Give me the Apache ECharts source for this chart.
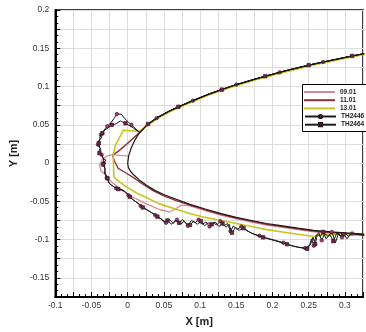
<!DOCTYPE html>
<html>
<head>
<meta charset="utf-8">
<script src="https://cdn.jsdelivr.net/npm/echarts@6/dist/echarts.min.js"></script>
<style>
  html, body { margin: 0; padding: 0; background: #fff; }
  #chart { width: 366px; height: 332px; }
</style>
</head>
<body>
<div id="chart"></div>
<script>
// Shock contours at three times and two probe traces, coordinates in metres [x, y]

// smooth reference contour around the nose (no legend entry)
const bodyContour = [
  [0.33, 0.1435], [0.311, 0.14], [0.26, 0.13], [0.216, 0.12], [0.177, 0.11], [0.142, 0.10],
  [0.112, 0.09], [0.086, 0.08], [0.062, 0.07], [0.042, 0.06], [0.027, 0.05], [0.0165, 0.04],
  [0.010, 0.03], [0.005, 0.02], [0.0015, 0.01], [0.0, 0.0], [0.001, -0.006], [0.004, -0.011],
  [0.009, -0.016], [0.016, -0.022], [0.026, -0.029], [0.038, -0.036], [0.052, -0.042],
  [0.069, -0.048], [0.086, -0.054], [0.107, -0.06], [0.129, -0.066], [0.15, -0.071],
  [0.171, -0.075], [0.192, -0.079], [0.214, -0.082], [0.235, -0.085], [0.257, -0.088],
  [0.28, -0.09], [0.33, -0.093]
];

const c0901 = [
  [0.33, 0.1435], [0.311, 0.14], [0.26, 0.13], [0.216, 0.12], [0.177, 0.11], [0.142, 0.10],
  [0.112, 0.09], [0.086, 0.08], [0.062, 0.07], [0.042, 0.06], [0.027, 0.05], [0.0165, 0.04],
  [0.0, 0.026], [-0.012, 0.016], [-0.021, 0.011], [-0.029, 0.009], [-0.035, 0.005],
  [-0.039, -0.003], [-0.037, -0.010], [-0.031, -0.015], [-0.022, -0.025], [-0.010, -0.034],
  [0.006, -0.044], [0.025, -0.053], [0.045, -0.061], [0.058, -0.064], [0.066, -0.060],
  [0.074, -0.055], [0.086, -0.056], [0.107, -0.062], [0.129, -0.068], [0.15, -0.073],
  [0.171, -0.077], [0.192, -0.081], [0.214, -0.084], [0.235, -0.087], [0.257, -0.090],
  [0.28, -0.092], [0.33, -0.095]
];
const c0901Spur = [[-0.021, 0.011], [-0.010, 0.010], [0.0015, 0.009]];

const c1101 = [
  [0.33, 0.1435], [0.311, 0.14], [0.26, 0.13], [0.216, 0.12], [0.177, 0.11], [0.142, 0.10],
  [0.112, 0.09], [0.086, 0.08], [0.062, 0.07], [0.042, 0.06], [0.027, 0.05], [0.0165, 0.04],
  [0.0, 0.026], [-0.012, 0.016], [-0.021, 0.010], [-0.018, 0.002], [-0.013, -0.007],
  [-0.004, -0.012], [0.008, -0.019], [0.020, -0.027], [0.035, -0.036], [0.05, -0.043],
  [0.067, -0.049], [0.086, -0.055], [0.107, -0.061], [0.129, -0.067], [0.15, -0.072],
  [0.171, -0.076], [0.192, -0.080], [0.214, -0.083], [0.235, -0.086], [0.257, -0.089],
  [0.28, -0.091], [0.33, -0.094]
];

const c1301 = [
  [0.33, 0.1425], [0.311, 0.1388], [0.26, 0.1288], [0.216, 0.1188], [0.177, 0.1088],
  [0.142, 0.0988], [0.112, 0.0888], [0.086, 0.0788], [0.062, 0.0688], [0.042, 0.0588],
  [0.027, 0.0488], [0.016, 0.0415], [0.006, 0.042], [-0.006, 0.043], [-0.017, 0.023],
  [-0.020, 0.010], [-0.019, -0.018], [-0.016, -0.021], [-0.002, -0.031], [0.012, -0.039],
  [0.030, -0.047], [0.043, -0.053], [0.066, -0.060], [0.086, -0.066], [0.107, -0.071],
  [0.129, -0.075], [0.15, -0.079], [0.171, -0.083], [0.192, -0.087], [0.214, -0.090],
  [0.235, -0.093], [0.257, -0.096], [0.265, -0.094], [0.28, -0.093], [0.33, -0.094]
];

const th2446 = [
  [0.33, 0.1435], [0.31, 0.14], [0.29, 0.136], [0.27, 0.132], [0.25, 0.128], [0.23, 0.1235],
  [0.21, 0.1185], [0.19, 0.1135], [0.17, 0.108], [0.15, 0.1025], [0.13, 0.096], [0.11, 0.0893],
  [0.09, 0.0815], [0.07, 0.0735], [0.055, 0.0667], [0.04, 0.0587], [0.028, 0.051], [0.0165, 0.04],
  [0.005, 0.05], [-0.004, 0.058], [-0.009, 0.064], [-0.015, 0.064], [-0.019, 0.058],
  [-0.023, 0.053], [-0.028, 0.048], [-0.031, 0.045], [-0.034, 0.041], [-0.037, 0.037],
  [-0.036, 0.033], [-0.040, 0.029], [-0.041, 0.024], [-0.038, 0.019], [-0.040, 0.015],
  [-0.036, 0.011], [-0.034, 0.006], [-0.030, 0.004], [-0.033, 0.000], [-0.032, -0.005],
  [-0.031, -0.012], [-0.029, -0.019], [-0.026, -0.026], [-0.021, -0.030], [-0.016, -0.033],
  [-0.010, -0.035], [-0.004, -0.037], [0.001, -0.042], [0.006, -0.047], [0.012, -0.051],
  [0.018, -0.056], [0.025, -0.060], [0.032, -0.064], [0.038, -0.068], [0.043, -0.071],
  [0.048, -0.074], [0.053, -0.078], [0.058, -0.074], [0.063, -0.079], [0.068, -0.074],
  [0.073, -0.080], [0.078, -0.076], [0.083, -0.082], [0.088, -0.075], [0.093, -0.078],
  [0.098, -0.074], [0.103, -0.080], [0.108, -0.077], [0.113, -0.083], [0.118, -0.078],
  [0.123, -0.081], [0.128, -0.076], [0.133, -0.082], [0.138, -0.079], [0.142, -0.089],
  [0.146, -0.082], [0.151, -0.087], [0.157, -0.083], [0.164, -0.088], [0.172, -0.092],
  [0.182, -0.095], [0.192, -0.098], [0.204, -0.101], [0.215, -0.104], [0.226, -0.108],
  [0.236, -0.110], [0.245, -0.111], [0.251, -0.108], [0.254, -0.099], [0.257, -0.108],
  [0.260, -0.095], [0.264, -0.091], [0.268, -0.101], [0.272, -0.092], [0.277, -0.096],
  [0.282, -0.090], [0.287, -0.104], [0.291, -0.092], [0.296, -0.097], [0.300, -0.091],
  [0.305, -0.096], [0.31, -0.092], [0.33, -0.094]
];

const th2464 = [
  [0.33, 0.1435], [0.31, 0.14], [0.29, 0.136], [0.27, 0.132], [0.25, 0.128], [0.23, 0.1235],
  [0.21, 0.1185], [0.19, 0.1135], [0.17, 0.108], [0.15, 0.1025], [0.13, 0.096], [0.11, 0.0893],
  [0.09, 0.0815], [0.07, 0.0735], [0.055, 0.0667], [0.04, 0.0587], [0.028, 0.051], [0.0165, 0.04],
  [0.006, 0.047], [-0.003, 0.052], [-0.010, 0.055], [-0.017, 0.051], [-0.022, 0.050],
  [-0.027, 0.046], [-0.032, 0.043], [-0.035, 0.039], [-0.038, 0.035], [-0.039, 0.030],
  [-0.040, 0.026], [-0.039, 0.021], [-0.037, 0.017], [-0.039, 0.013], [-0.035, 0.009],
  [-0.033, 0.004], [-0.034, -0.002], [-0.031, -0.007], [-0.032, -0.013], [-0.028, -0.020],
  [-0.025, -0.027], [-0.019, -0.031], [-0.013, -0.034], [-0.007, -0.035], [-0.002, -0.039],
  [0.003, -0.044], [0.009, -0.049], [0.015, -0.053], [0.021, -0.058], [0.028, -0.062],
  [0.035, -0.066], [0.041, -0.070], [0.046, -0.073], [0.050, -0.077], [0.055, -0.075],
  [0.060, -0.080], [0.066, -0.075], [0.071, -0.078], [0.076, -0.074], [0.081, -0.079],
  [0.086, -0.081], [0.091, -0.076], [0.096, -0.080], [0.101, -0.076], [0.106, -0.082],
  [0.111, -0.078], [0.116, -0.080], [0.121, -0.077], [0.126, -0.083], [0.131, -0.079],
  [0.136, -0.084], [0.140, -0.080], [0.144, -0.091], [0.149, -0.084], [0.154, -0.088],
  [0.160, -0.085], [0.168, -0.090], [0.177, -0.094], [0.187, -0.097], [0.198, -0.100],
  [0.209, -0.103], [0.220, -0.106], [0.231, -0.109], [0.241, -0.111], [0.248, -0.112],
  [0.253, -0.105], [0.256, -0.097], [0.259, -0.106], [0.262, -0.093], [0.266, -0.096],
  [0.270, -0.090], [0.274, -0.099], [0.279, -0.093], [0.284, -0.102], [0.289, -0.091],
  [0.293, -0.095], [0.298, -0.093], [0.303, -0.099], [0.308, -0.092], [0.33, -0.095]
];

const contourNames = ['09.01', '11.01', '13.01'];
const probeNames = ['TH2446', 'TH2464'];
const xTicks = { min: -0.1, max: 0.325, step: 0.025, labelStep: 0.05 };
const yTicks = { min: -0.175, max: 0.2, step: 0.025, labelStep: 0.05 };

const FONT = "'Liberation Sans', Arial, Helvetica, sans-serif";

// only every other major tick carries a label
function tickLabel(step) {
  return function (v) {
    const k = v / step;
    if (Math.abs(k - Math.round(k)) > 1e-6) return '';
    return String(parseFloat(v.toFixed(3)));
  };
}

// probe traces show a marker on every third vertex
function withMarkers(points, offset) {
  return points.map(function (p, i) {
    return (i % 3 === offset) ? p : { value: p, symbol: 'none' };
  });
}

function axisCommon(t) {
  return {
    type: 'value',
    min: t.min,
    max: t.max,
    interval: t.step,
    axisLine: { show: true, onZero: false, lineStyle: { color: '#000', width: 2 } },
    axisTick: { show: true, inside: true, length: 5, lineStyle: { color: '#000', width: 1 } },
    minorTick: { show: true, splitNumber: 3, length: 3, lineStyle: { color: '#000', width: 1 } },
    splitLine: { show: true, lineStyle: { color: '#dcdcdc', width: 1 } },
    axisLabel: {
      formatter: tickLabel(t.labelStep),
      color: '#333',
      fontSize: 8.5,
      fontFamily: FONT
    }
  };
}

const xAxis = axisCommon(xTicks);
xAxis.axisLabel.margin = 4;
xAxis.name = 'X [m]';
xAxis.nameLocation = 'middle';
xAxis.nameGap = 19;
xAxis.nameTextStyle = { fontSize: 11, fontWeight: 'bold', color: '#222', fontFamily: FONT, padding: [0, 20, 0, 0] };

const yAxis = axisCommon(yTicks);
yAxis.axisLabel.margin = 6;
yAxis.name = 'Y [m]';
yAxis.nameLocation = 'middle';
yAxis.nameGap = 31;
yAxis.nameTextStyle = { fontSize: 11, fontWeight: 'bold', color: '#222', fontFamily: FONT };

function curve(name, data, color, width, z) {
  return {
    name: name, type: 'line', data: data, symbol: 'none', z: z,
    lineStyle: { color: color, width: width }, itemStyle: { color: color },
    emphasis: { disabled: true }, animation: false
  };
}

function probe(name, data, symbol, fill, offset, z) {
  return {
    name: name, type: 'line', data: withMarkers(data, offset),
    symbol: symbol, symbolSize: 3.5, showSymbol: true, showAllSymbol: true, z: z,
    lineStyle: { color: '#1a1a1a', width: 1 },
    itemStyle: { color: fill, borderColor: '#1a1a1a', borderWidth: 0.6 },
    emphasis: { disabled: true }, animation: false
  };
}

const legendText = { fontSize: 6.5, fontWeight: 'bold', color: '#222', fontFamily: FONT, lineHeight: 7 };

const chart = echarts.init(document.getElementById('chart'), null, { renderer: 'canvas' });
chart.setOption({
  backgroundColor: '#fff',
  animation: false,
  grid: {
    left: 48.5, top: 10, bottom: 29, right: -14,
    show: true, borderColor: '#000', borderWidth: 1.5, backgroundColor: 'transparent'
  },
  xAxis: xAxis,
  yAxis: yAxis,
  // legend frame
  graphic: [{
    type: 'rect', left: 302, top: 84, z: 20,
    shape: { width: 80, height: 47 },
    style: { fill: '#fff', stroke: '#000', lineWidth: 1 }
  }],
  legend: [{
    data: contourNames,
    orient: 'vertical', left: 304, top: 88.5,
    icon: 'rect', itemWidth: 31, itemHeight: 2, itemGap: 1.2,
    padding: 0, selectedMode: false, z: 30,
    textStyle: legendText
  }, {
    data: probeNames,
    orient: 'vertical', left: 304, top: 113,
    itemWidth: 31, itemHeight: 4, itemGap: 1.2,
    padding: 0, selectedMode: false, z: 30,
    textStyle: legendText
  }],
  series: [
    curve('09.01', c0901, '#d98a90', 1.3, 2),
    curve('09.01', c0901Spur, '#d98a90', 1.3, 2),
    curve('11.01', c1101, '#8a2f3a', 1.3, 3),
    curve('13.01', c1301, '#c9c41e', 1.6, 4),
    curve('', bodyContour, '#1f1416', 1.2, 5),
    probe('TH2446', th2446, 'circle', '#b03a78', 0, 6),
    probe('TH2464', th2464, 'rect', '#7a1f4a', 1, 7)
  ]
});
</script>
</body>
</html>
